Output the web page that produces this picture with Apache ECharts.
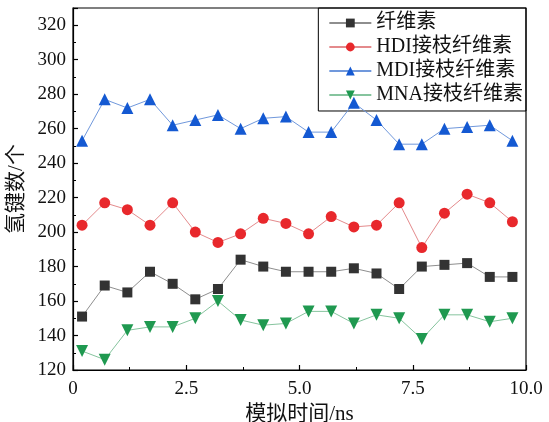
<!DOCTYPE html>
<html>
<head>
<meta charset="utf-8">
<script src="https://cdn.jsdelivr.net/npm/echarts@6/dist/echarts.min.js"></script>
<style>
  html, body { margin: 0; padding: 0; background: #fff; }
  #chart { width: 549px; height: 422px; }
</style>
</head>
<body>
<div id="chart"></div>
<script>
// Simulation time (ns) for each sample
const timeNs = [0.2, 0.7, 1.2, 1.7, 2.2, 2.7, 3.2, 3.7, 4.2, 4.7,
                5.2, 5.7, 6.2, 6.7, 7.2, 7.7, 8.2, 8.7, 9.2, 9.7];

// Hydrogen bond counts per system
const cellulose = [151, 169, 165, 177, 170, 161, 167, 184, 180, 177,
                   177, 177, 179, 176, 167, 180, 181, 182, 174, 174];
const hdiGraft  = [204, 217, 213, 204, 217, 200, 194, 199, 208, 205,
                   199, 209, 203, 204, 217, 191, 211, 222, 217, 206];
const mdiGraft  = [253, 277, 272, 277, 262, 265, 268, 260, 266, 267,
                   258, 258, 275, 265, 251, 251, 260, 261, 262, 253];
const mnaGraft  = [131, 126, 143, 145, 145, 150, 160, 149, 146, 147,
                   154, 154, 147, 152, 150, 138, 152, 152, 148, 150];

const seriesNames = ['纤维素', 'HDI接枝纤维素', 'MDI接枝纤维素', 'MNA接枝纤维素'];
const xTickLabels = { 0: '0', 2.5: '2.5', 5: '5.0', 7.5: '7.5', 10: '10.0' };

const FONT = '"Liberation Serif", "Times New Roman", "Noto Sans CJK SC", serif';

function pairs(values) {
  return values.map((v, i) => [timeNs[i], v]);
}

function lineSeries(name, values, symbol, size, markerColor, lineColor, rotate) {
  return {
    name: name,
    type: 'line',
    data: pairs(values),
    symbol: symbol,
    symbolSize: size,
    symbolRotate: rotate || 0,
    showAllSymbol: true,
    itemStyle: { color: markerColor, borderWidth: 0 },
    lineStyle: { color: lineColor, width: 1 },
    emphasis: { disabled: true },
    z: 3
  };
}

const chart = echarts.init(document.getElementById('chart'), null, { renderer: 'canvas' });

chart.setOption({
  animation: false,
  backgroundColor: '#ffffff',
  textStyle: { fontFamily: FONT },
  grid: {
    left: 73, right: 23, top: 8, bottom: 52,
    containLabel: false,
    outerBoundsMode: 'none',
    show: true, borderColor: '#000', borderWidth: 1.2, backgroundColor: 'transparent'
  },
  legend: {
    orient: 'vertical',
    right: 23, top: 8,
    data: seriesNames,
    itemWidth: 42,
    itemHeight: 11,
    itemGap: 4,
    padding: [5, 3, 6, 10],
    borderColor: '#000',
    borderWidth: 1,
    backgroundColor: 'transparent',
    textStyle: { fontFamily: FONT, fontSize: 20, color: '#111' },
    z: 1
  },
  xAxis: {
    type: 'value',
    min: 0, max: 10, interval: 2.5,
    name: '模拟时间/ns',
    nameLocation: 'middle',
    nameGap: 31,
    nameTextStyle: { fontFamily: FONT, fontSize: 21, color: '#111' },
    axisLine: { show: true, lineStyle: { color: '#000', width: 1.2 } },
    axisTick: { show: true, inside: true, length: 5, lineStyle: { color: '#000', width: 1.2 } },
    minorTick: { show: true, splitNumber: 2, length: 3, lineStyle: { color: '#000', width: 1 } },
    splitLine: { show: false },
    axisLabel: {
      fontFamily: FONT, fontSize: 19, color: '#111', margin: 10,
      formatter: v => (xTickLabels[v] !== undefined ? xTickLabels[v] : '')
    }
  },
  yAxis: {
    type: 'value',
    min: 120, max: 330, interval: 20,
    name: '氢键数/个',
    nameLocation: 'middle',
    nameGap: 37,
    nameTextStyle: { fontFamily: FONT, fontSize: 21, color: '#111' },
    axisLine: { show: true, lineStyle: { color: '#000', width: 1.2 } },
    axisTick: { show: true, inside: true, length: 5, lineStyle: { color: '#000', width: 1.2 } },
    minorTick: { show: true, splitNumber: 2, length: 3, lineStyle: { color: '#000', width: 1 } },
    splitLine: { show: false },
    axisLabel: {
      fontFamily: FONT, fontSize: 19, color: '#111', margin: 7,
      showMaxLabel: false,
      formatter: v => (v % 20 === 0 ? String(v) : '')
    }
  },
  series: [
    lineSeries(seriesNames[0], cellulose, 'rect', 10, '#333333', '#8e8e8e'),
    lineSeries(seriesNames[1], hdiGraft, 'circle', 11, '#e8282c', '#e48a8c'),
    lineSeries(seriesNames[2], mdiGraft, 'triangle', 12, '#1459d2', '#7098dc'),
    lineSeries(seriesNames[3], mnaGraft, 'triangle', 12, '#1f9950', '#86c49e', 180)
  ]
});
</script>
</body>
</html>
